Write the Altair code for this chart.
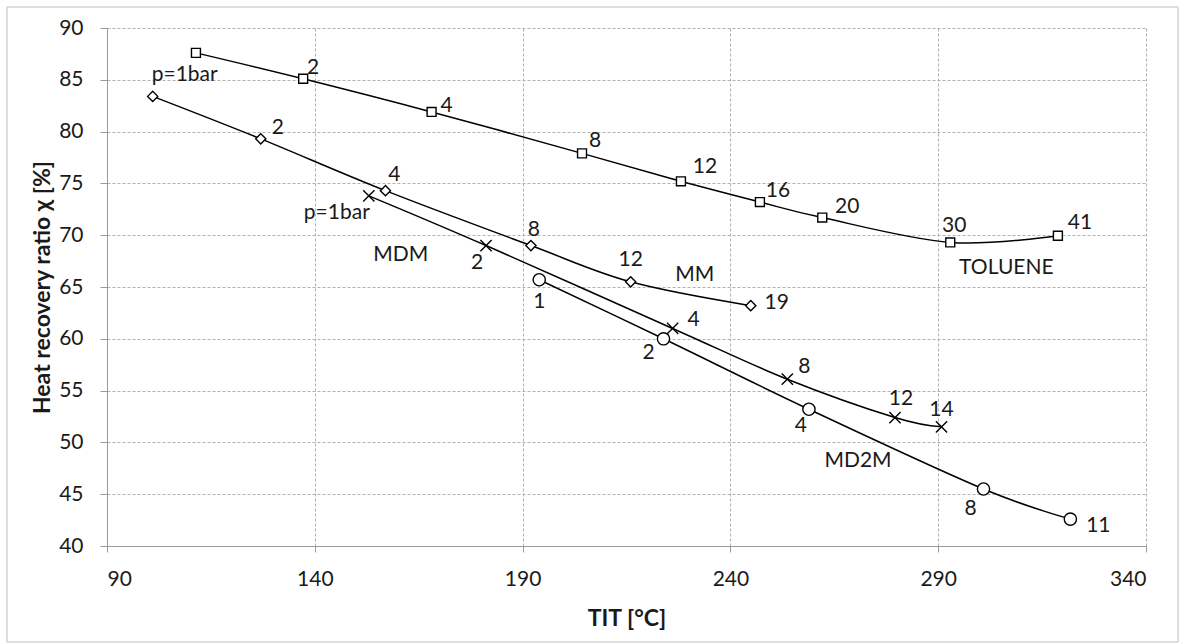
import altair as alt
import pandas as pd

# ---- data ----
series_names = ["TOLUENE", "MM", "MDM", "MD2M"]

tol_x = [111.4, 137.2, 168.1, 204.3, 228.1, 247.1, 262.1, 292.9, 318.8]
tol_y = [87.6, 85.1, 81.9, 77.9, 75.2, 73.2, 71.7, 69.3, 69.95]
tol_lab = ["", "2", "4", "8", "12", "16", "20", "30", "41"]

mm_x = [101.0, 127.0, 157.0, 192.0, 216.0, 244.9]
mm_y = [83.4, 79.3, 74.3, 69.0, 65.5, 63.2]
mm_lab = ["p=1bar", "2", "4", "8", "12", "19"]

mdm_x = [153.0, 181.2, 226.1, 253.7, 279.6, 290.8]
mdm_y = [73.8, 69.0, 61.0, 56.1, 52.4, 51.5]
mdm_lab = ["p=1bar", "2", "4", "8", "12", "14"]

md2m_x = [194.0, 223.9, 258.9, 300.9, 321.8]
md2m_y = [65.7, 60.0, 53.2, 45.5, 42.6]
md2m_lab = ["1", "2", "4", "8", "11"]

# label offsets in pixels (layout only)
tol_off = [(0, 0), (10, -11), (15, -6), (13, -12), (24, -14), (18, -11), (25, -11), (4, -16), (22, -13)]
mm_off = [(32, -21), (17, -11), (9, -16), (3, -16), (0, -22), (26, -3)]
mdm_off = [(-32, 17), (-9, 17), (21, -8), (17, -12), (6, -19), (0, -17)]
md2m_off = [(0, 22), (-15, 14), (-8, 17), (-13, 20), (28, 7)]

# series name annotations
name_x = [306.4, 231.4, 160.7, 270.7]
name_y = [66.8, 66.2, 68.1, 48.2]

x_ticks = [90, 140, 190, 240, 290, 340]
y_ticks = [40, 45, 50, 55, 60, 65, 70, 75, 80, 85, 90]

W, H = 1039, 518
X0, X1, Y0, Y1 = 90, 340, 40, 90

rows = []
for name, xs, ys, labs, offs in [
    ("TOLUENE", tol_x, tol_y, tol_lab, tol_off),
    ("MM", mm_x, mm_y, mm_lab, mm_off),
    ("MDM", mdm_x, mdm_y, mdm_lab, mdm_off),
    ("MD2M", md2m_x, md2m_y, md2m_lab, md2m_off),
]:
    for i, (xv, yv, lb, (dx, dy)) in enumerate(zip(xs, ys, labs, offs)):
        rows.append({"series": name, "idx": i, "x": xv, "y": yv, "label": lb, "dx": dx, "dy": dy})
df = pd.DataFrame(rows)
names_df = pd.DataFrame({"name": series_names, "x": name_x, "y": name_y})

FONT = "Lato"
TXT = "#1a1a1a"

xscale = alt.Scale(domain=[X0, X1], nice=False, zero=False)
yscale = alt.Scale(domain=[Y0, Y1], nice=False, zero=False)

xaxis = alt.Axis(
    values=x_ticks, title="TIT [°C]", grid=True, gridDash=[3, 2], gridColor="#b0b0b0",
    domainColor="#9a9a9a", tickColor="#9a9a9a", tickSize=6, labelFont=FONT, labelFontSize=21,
    labelColor=TXT, labelPadding=16, titleFont=FONT, titleFontSize=23, titleFontWeight="bold",
    titleColor=TXT, titleX=519.5, titleY=72, titleBaseline="middle", titleAlign="center",
)
yaxis = alt.Axis(
    values=y_ticks, title="Heat recovery ratio χ [%]", grid=True, gridDash=[3, 2], gridColor="#b0b0b0",
    domainColor="#9a9a9a", tickColor="#9a9a9a", tickSize=7, labelFont=FONT, labelFontSize=21,
    labelColor=TXT, labelPadding=17, titleFont=FONT, titleFontSize=23, titleFontWeight="bold",
    titleColor=TXT, titlePadding=4,
)

base = alt.Chart(df)

border = alt.Chart(pd.DataFrame({"a": [0]})).mark_rect(
    fillOpacity=0, stroke="#bdbdbd", strokeWidth=1
).encode(x=alt.value(-100), x2=alt.value(1071), y=alt.value(-21), y2=alt.value(614))

lines = base.mark_line(interpolate="cardinal", color="black", strokeWidth=1.5).encode(
    x=alt.X("x:Q", scale=xscale, axis=xaxis),
    y=alt.Y("y:Q", scale=yscale, axis=yaxis),
    detail="series:N",
    order="idx:Q",
)

points = base.mark_point(filled=True, fill="white", stroke="black", strokeWidth=1.4, opacity=1).encode(
    x=alt.X("x:Q", scale=xscale),
    y=alt.Y("y:Q", scale=yscale),
    shape=alt.Shape("series:N", scale=alt.Scale(
        domain=series_names,
        range=["square", "diamond", "M-1,-1L1,1M-1,1L1,-1", "circle"]), legend=None),
    size=alt.Size("series:N", scale=alt.Scale(domain=series_names, range=[80, 150, 150, 115]), legend=None),
)

labels = base.transform_calculate(
    lx=f"datum.x + datum.dx * {(X1 - X0) / W}",
    ly=f"datum.y - datum.dy * {(Y1 - Y0) / H}",
).mark_text(font=FONT, fontSize=21, align="center", baseline="middle", color=TXT).encode(
    x=alt.X("lx:Q", scale=xscale),
    y=alt.Y("ly:Q", scale=yscale),
    text="label:N",
)

names = alt.Chart(names_df).mark_text(font=FONT, fontSize=21, align="center", baseline="middle", color=TXT).encode(
    x=alt.X("x:Q", scale=xscale),
    y=alt.Y("y:Q", scale=yscale),
    text="name:N",
)

chart = alt.layer(border, lines, points, labels, names).properties(
    width=W, height=H,
    autosize=alt.AutoSizeParams(type="none"),
    padding={"left": 107, "top": 28, "right": 34, "bottom": 97},
    background="white",
).configure_view(stroke=None)

chart.save("out.html", embed_options={"renderer": "svg", "actions": False})
